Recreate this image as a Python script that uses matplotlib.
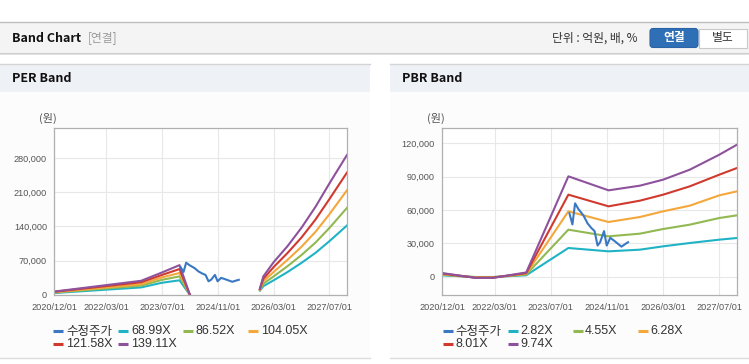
import matplotlib
matplotlib.use("Agg")
import matplotlib.dates as mdates
import matplotlib.pyplot as plt
import numpy as np
import pandas as pd
from matplotlib.patches import FancyBboxPatch, Rectangle
from matplotlib.ticker import FuncFormatter

plt.rcParams["font.family"] = ["Liberation Sans", "Noto Sans CJK KR", "DejaVu Sans"]
KR = ["Noto Sans CJK KR", "DejaVu Sans"]

W, H = 749, 364

# ---- data (won) ----
PRICE_LABEL = "수정주가"
price_dates = ["2023-12-10", "2024-01-05", "2024-01-28", "2024-02-25", "2024-04-10",
               "2024-05-15", "2024-06-15", "2024-07-15", "2024-08-10", "2024-09-01",
               "2024-10-05", "2024-10-28", "2024-11-28", "2025-01-05", "2025-03-05",
               "2025-04-01", "2025-05-01"]
price = [57000, 47000, 66000, 61000, 55000, 48000, 44000, 41000, 28000, 31000,
         41000, 28000, 35000, 32000, 27000, 29000, 31000]

per_labels = ["68.99X", "86.52X", "104.05X", "121.58X", "139.11X"]
per_dates = ["2020-12-01", "2022-12-31", "2023-07-01", "2023-12-01", "2024-03-01",
             "2024-06-01", "2025-11-01", "2025-12-01", "2026-03-01", "2026-07-01",
             "2026-11-01", "2027-03-01", "2027-07-01", "2027-12-01"]
per_x68 = [4000, 15500, 25000, 30000, 0, None, 9000, 18000, 30000, 47000, 66000, 86000, 110000, 142000]
per_x86 = [5000, 19000, 31000, 38000, 0, None, 10000, 23000, 38000, 59000, 82000, 107000, 137000, 178000]
per_x104 = [5500, 22000, 36000, 45000, 0, None, 11000, 28000, 47000, 72000, 99000, 129000, 165000, 214000]
per_x121 = [6500, 26000, 41000, 53000, 0, None, 12000, 33000, 57000, 86000, 118000, 154000, 196000, 250000]
per_x139 = [7000, 29000, 46000, 61000, 0, None, 13000, 38000, 67000, 100000, 138000, 180000, 228000, 286000]

pbr_labels = ["2.82X", "4.55X", "6.28X", "8.01X", "9.74X"]
pbr_dates = ["2020-12-01", "2021-09-15", "2022-02-15", "2022-12-01", "2023-12-01",
             "2024-11-13", "2025-08-12", "2026-03-01", "2026-10-18", "2027-07-01", "2027-12-01"]
pbr_x2 = [1200, -300, -300, 1300, 25800, 22800, 24300, 27300, 30300, 33300, 34800]
pbr_x4 = [1800, -500, -500, 2000, 42300, 36300, 38700, 42900, 46800, 52800, 55200]
pbr_x6 = [2300, -700, -700, 2600, 58800, 49200, 53700, 58800, 63900, 73200, 76800]
pbr_x8 = [2800, -900, -900, 3200, 73800, 63300, 68400, 73800, 81300, 91800, 97800]
pbr_x9 = [3300, -1100, -1100, 3800, 90300, 77700, 81900, 87300, 96300, 109800, 118800]

tick_dates = ["2020-12-01", "2022-03-01", "2023-07-01", "2024-11-01", "2026-03-01", "2027-07-01"]
per_yticks = [0, 70000, 140000, 210000, 280000]
pbr_yticks = [0, 30000, 60000, 90000, 120000]

PRICE_COLOR = "#3a78c3"
BAND_COLORS = ["#1fb3c5", "#92b951", "#f4a73a", "#d03a2e", "#8e529d"]


def to_num(vals):
    return np.array([np.nan if v is None else v for v in vals], dtype=float)


fig = plt.figure(figsize=(W / 100, H / 100), dpi=100)

# background / page chrome in pixel coordinates
bg = fig.add_axes([0, 0, 1, 1], zorder=0)
bg.set_xlim(0, W)
bg.set_ylim(H, 0)
bg.axis("off")

bg.add_patch(Rectangle((0, 53), W, 2, color="#e2e2e2", lw=0))
bg.add_patch(Rectangle((0, 22), W, 31, facecolor="#f4f4f4", edgecolor="none"))
bg.plot([0, W], [22, 22], color="#bdbdbd", lw=1)
bg.plot([0, W], [52.5, 52.5], color="#cfcfcf", lw=0.8)
bg.text(12, 38, "Band Chart", fontsize=9, fontweight="bold", family=KR,
        color="#111111", va="center")
bg.text(88, 38, "[연결]", fontsize=8.5, family=KR, color="#9a9a9a", va="center")
bg.text(552, 38, "단위 : 억원, 배, %", fontsize=8.5, family=KR, color="#333333", va="center")
bg.add_patch(FancyBboxPatch((650, 28.5), 48, 19, boxstyle="round,pad=0,rounding_size=3",
                            facecolor="#2f6fb6", edgecolor="#2a64a6", lw=0.8))
bg.add_patch(Rectangle((699, 28.5), 48, 19, facecolor="white", edgecolor="#c8c8c8", lw=0.8))
bg.text(674, 38, "연결", fontsize=8.5, family=KR, fontweight="bold", color="white",
        ha="center", va="center")
bg.text(723, 38, "별도", fontsize=8.5, family=KR, color="#333333", ha="center", va="center")

for x0, x1, title in [(0, 370, "PER Band"), (390, W, "PBR Band")]:
    bg.add_patch(Rectangle((x0, 92), x1 - x0, 266, facecolor="#fcfcfc", edgecolor="none"))
    bg.add_patch(Rectangle((x0, 64), x1 - x0, 28, facecolor="#eef1f6", edgecolor="none"))
    bg.plot([x0, x1], [64, 64], color="#d4d4d4", lw=1)
    bg.plot([x0, x1], [358, 358], color="#dddddd", lw=1)
    bg.text(x0 + 12, 79, title, fontsize=9, fontweight="bold", family=KR,
            color="#111111", va="center")

xmin, xmax = pd.Timestamp("2020-12-01"), pd.Timestamp("2027-12-01")
ticks = pd.to_datetime(tick_dates)


def setup_axes(rect, ylim, yticks):
    l, t, r, b = rect
    ax = fig.add_axes([l / W, 1 - b / H, (r - l) / W, (b - t) / H], zorder=1)
    ax.set_facecolor("white")
    ax.set_xlim(xmin, xmax)
    ax.set_ylim(*ylim)
    ax.set_xticks(ticks)
    ax.xaxis.set_major_formatter(mdates.DateFormatter("%Y/%m/%d"))
    ax.set_yticks(yticks)
    ax.yaxis.set_major_formatter(FuncFormatter(lambda v, p: f"{int(v):,}"))
    ax.tick_params(length=0, labelsize=6.6, labelcolor="#555555")
    ax.tick_params(axis="x", pad=6)
    ax.tick_params(axis="y", pad=5)
    ax.grid(color="#e8e8e8", lw=0.8)
    ax.set_axisbelow(True)
    for s in ax.spines.values():
        s.set_color("#b0b0b0")
        s.set_linewidth(0.9)
    return ax


def draw_legend(xs, labels, colors, text_off):
    rows = [331, 344]
    for i, (lab, col) in enumerate(zip(labels, colors)):
        x = xs[i % 4]
        y = rows[i // 4]
        bg.plot([x, x + 10], [y, y], color=col, lw=2.2, solid_capstyle="butt")
        fam = KR if lab == PRICE_LABEL else ["Liberation Sans", "DejaVu Sans"]
        bg.text(x + text_off, y, lab, fontsize=9, family=fam, color="#333333", va="center")


# PER chart
ax1 = setup_axes((54, 128, 347, 295), (0, 341000), per_yticks)
pdates = pd.to_datetime(per_dates)
for vals, col in zip([per_x68, per_x86, per_x104, per_x121, per_x139], BAND_COLORS):
    ax1.plot(pdates, to_num(vals), color=col, lw=1.5)
ax1.plot(pd.to_datetime(price_dates), price, color=PRICE_COLOR, lw=1.5)
bg.text(39, 118, "(원)", fontsize=8, family=KR, color="#555555", va="center")

# PBR chart
ax2 = setup_axes((442, 128, 737, 295), (-16500, 133800), pbr_yticks)
bdates = pd.to_datetime(pbr_dates)
for vals, col in zip([pbr_x2, pbr_x4, pbr_x6, pbr_x8, pbr_x9], BAND_COLORS):
    ax2.plot(bdates, to_num(vals), color=col, lw=1.5)
ax2.plot(pd.to_datetime(price_dates), price, color=PRICE_COLOR, lw=1.5)
bg.text(427, 118, "(원)", fontsize=8, family=KR, color="#555555", va="center")

colors_all = [PRICE_COLOR] + BAND_COLORS
draw_legend([53, 118, 183, 248], [PRICE_LABEL] + per_labels, colors_all, 13)
draw_legend([443, 508, 573, 638], [PRICE_LABEL] + pbr_labels, colors_all, 12)

fig.savefig("out.png", dpi=100)
plt.close(fig)
